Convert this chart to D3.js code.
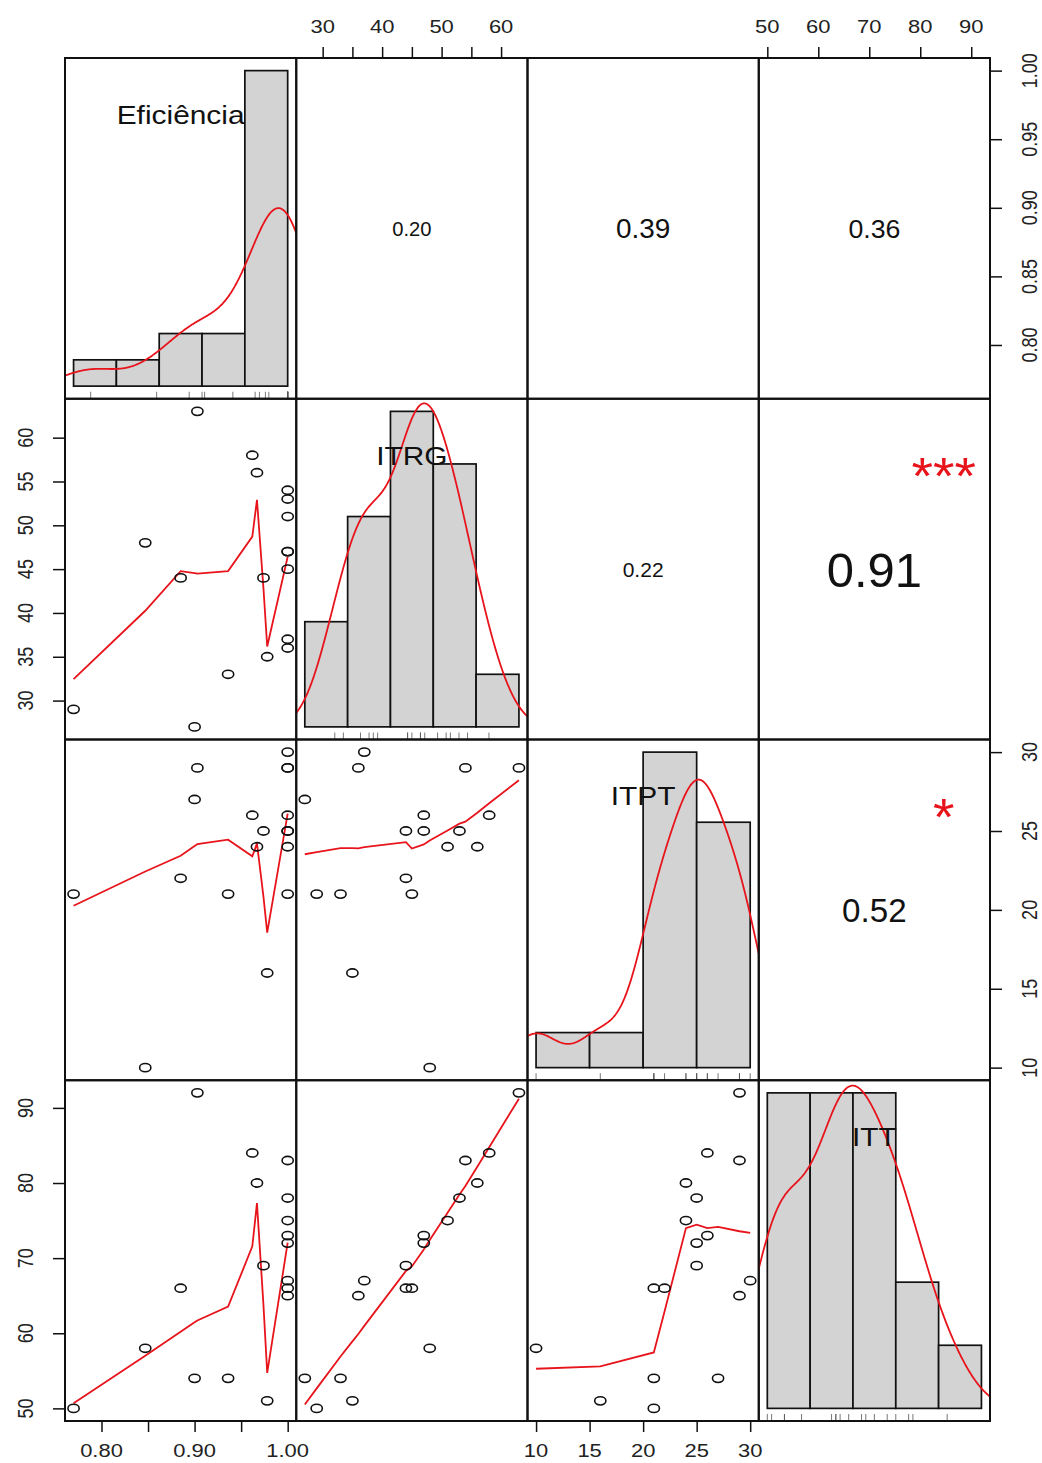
<!DOCTYPE html>
<html>
<head>
<meta charset="utf-8">
<script src="https://cdn.jsdelivr.net/npm/d3@7"></script>
<style>
  body { margin: 0; background: #fff; }
  svg text { font-family: "Liberation Sans", Arial, Helvetica, sans-serif; }
</style>
</head>
<body>
<div id="chart"></div>
<script>
// variable names (diagonal labels)
var varNames = ["Eficiência", "ITRG", "ITPT", "ITT"];

var eficiencia = [0.903, 0.962, 1.00, 0.967, 1.00, 1.00, 1.00, 1.00, 0.974, 1.00, 1.00, 0.885, 1.00, 0.847, 0.900, 0.936, 0.978, 0.770];
var itrg       = [63, 58, 54, 56, 53, 51, 47, 47, 44, 37, 45, 44, 36, 48, 27, 33, 35, 29];
var itpt       = [29, 26, 29, 24, 25, 24, 26, 25, 25, 30, 21, 22, 29, 10, 27, 21, 16, 21];
var itt        = [92, 84, 83, 80, 78, 75, 73, 72, 69, 67, 66, 66, 65, 58, 54, 54, 51, 50];

// histogram breaks
var efBreaks   = [0.75, 0.80, 0.85, 0.90, 0.95, 1.00];
var itrgBreaks = [20, 30, 40, 50, 60, 70];
var itptBreaks = [10, 15, 20, 25, 30];
var ittBreaks  = [50, 60, 70, 80, 90, 100];

// axis ticks and their labels ("" = tick without label)
var efTicks   = [0.80, 0.85, 0.90, 0.95, 1.00];
var itrgTicks = [30, 35, 40, 45, 50, 55, 60];
var itptTicks = [10, 15, 20, 25, 30];
var ittTicks  = [50, 60, 70, 80, 90];
var efColLabels   = ["0.80", "", "0.90", "", "1.00"];
var efRowLabels   = ["0.80", "0.85", "0.90", "0.95", "1.00"];
var itrgColLabels = ["30", "", "40", "", "50", "", "60"];
var itrgRowLabels = ["30", "35", "40", "45", "50", "55", "60"];
var itptLabels    = ["10", "15", "20", "25", "30"];
var ittLabels     = ["50", "60", "70", "80", "90"];

// correlations shown in the upper panels
var corrPairs  = [[0, 1], [0, 2], [0, 3], [1, 2], [1, 3], [2, 3]];
var corrValues = [0.20, 0.39, 0.36, 0.22, 0.91, 0.52];
var corrStars  = ["", "", "", "", "***", "*"];

function init()
{
  var w = 1042, h = 1463;
  var X0 = 65, Y0 = 58, PW = 231.25, PH = 340.75;
  var SX = 1.22;   // horizontal stretch of the source picture
  var RED = "#e8141c";

  var vars = [eficiencia, itrg, itpt, itt];
  var breaks = [efBreaks, itrgBreaks, itptBreaks, ittBreaks];
  var ticks = [efTicks, itrgTicks, itptTicks, ittTicks];
  var colLabels = [efColLabels, itrgColLabels, itptLabels, ittLabels];
  var rowLabels = [efRowLabels, itrgRowLabels, itptLabels, ittLabels];

  var svg = d3.select("#chart")
              .append("svg")
              .attr("width", w)
              .attr("height", h);

  // R style 4% range extension
  function pad(ext) {
    var d = (ext[1] - ext[0]) * 0.04;
    return [ext[0] - d, ext[1] + d];
  }

  function addText(g, x, y, txt, size, sx, rot) {
    return g.append("text")
      .attr("transform", "translate(" + x + "," + y + ") scale(" + sx + ",1)" + (rot ? " rotate(" + rot + ")" : ""))
      .attr("text-anchor", "middle")
      .attr("font-size", size)
      .text(txt);
  }

  // R's clowess
  function lowess(xIn, yIn, f, nsteps) {
    var n = xIn.length;
    var idx = d3.range(n).sort(function(a, b){ return xIn[a] - xIn[b] || a - b; });
    var X = [0], Y = [0], YS = [0], RW = [0], RES = [0], W = [0];
    idx.forEach(function(i){ X.push(xIn[i]); Y.push(yIn[i]); YS.push(0); RW.push(0); RES.push(0); W.push(0); });
    var delta = 0.01 * (X[n] - X[1]);
    var ns = Math.max(2, Math.min(n, Math.floor(f * n + 1e-7)));

    function lowest(xs, nleft, nright, userw) {
      var range = X[n] - X[1];
      var hh = Math.max(xs - X[nleft], X[nright] - xs);
      var h9 = 0.999 * hh, h1 = 0.001 * hh;
      var a = 0, j = nleft;
      while (j <= n) {
        W[j] = 0;
        var r = Math.abs(X[j] - xs);
        if (r <= h9) {
          W[j] = r <= h1 ? 1 : Math.pow(1 - Math.pow(r / hh, 3), 3);
          if (userw) W[j] *= RW[j];
          a += W[j];
        } else if (X[j] > xs) break;
        j++;
      }
      var nrt = j - 1;
      if (a <= 0) return null;
      for (j = nleft; j <= nrt; j++) W[j] /= a;
      if (hh > 0) {
        a = 0;
        for (j = nleft; j <= nrt; j++) a += W[j] * X[j];
        var b = xs - a, c = 0;
        for (j = nleft; j <= nrt; j++) c += W[j] * (X[j] - a) * (X[j] - a);
        if (Math.sqrt(c) > 0.001 * range) {
          b /= c;
          for (j = nleft; j <= nrt; j++) W[j] *= (b * (X[j] - a) + 1);
        }
      }
      var out = 0;
      for (j = nleft; j <= nrt; j++) out += W[j] * Y[j];
      return out;
    }

    for (var iter = 1; iter <= nsteps + 1; iter++) {
      var nleft = 1, nright = ns, last = 0, i = 1;
      for (;;) {
        if (nright < n) {
          var d1 = X[i] - X[nleft], d2 = X[nright + 1] - X[i];
          if (d1 > d2) { nleft++; nright++; continue; }
        }
        var v = lowest(X[i], nleft, nright, iter > 1);
        YS[i] = v === null ? Y[i] : v;
        if (last < i - 1) {
          var denom = X[i] - X[last];
          for (var j = last + 1; j < i; j++) {
            var alpha = (X[j] - X[last]) / denom;
            YS[j] = alpha * YS[i] + (1 - alpha) * YS[last];
          }
        }
        last = i;
        var cut = X[last] + delta;
        for (i = last + 1; i <= n; i++) {
          if (X[i] > cut) break;
          if (X[i] === X[last]) { YS[i] = YS[last]; last = i; }
        }
        i = Math.max(last + 1, i - 1);
        if (last >= n) break;
      }
      var sc = 0;
      for (i = 1; i <= n; i++) { RES[i] = Y[i] - YS[i]; sc += Math.abs(RES[i]); }
      sc /= n;
      if (iter > nsteps) break;
      var sorted = RES.slice(1).map(Math.abs).sort(function(a, b){ return a - b; });
      var m1 = Math.floor(n / 2);
      var cmad = n % 2 === 0 ? 3 * (sorted[m1] + sorted[n - m1 - 1]) : 6 * sorted[m1];
      if (cmad < 1e-7 * sc) break;
      var c9 = 0.999 * cmad, c1 = 0.001 * cmad;
      for (i = 1; i <= n; i++) {
        var rr = Math.abs(RES[i]);
        RW[i] = rr <= c1 ? 1 : (rr <= c9 ? Math.pow(1 - Math.pow(rr / cmad, 2), 2) : 0);
      }
    }
    return d3.range(1, n + 1).map(function(k){ return [X[k], YS[k]]; });
  }

  // gaussian kernel density, bw.nrd0
  function density(vals) {
    var n = vals.length;
    var s = vals.slice().sort(d3.ascending);
    var sd = d3.deviation(s);
    var iqr = d3.quantile(s, 0.75) - d3.quantile(s, 0.25);
    var lo = Math.min(sd, iqr / 1.34);
    if (!(lo > 0)) lo = sd;
    var bw = 0.9 * lo * Math.pow(n, -0.2);
    var from = s[0] - 3 * bw, to = s[n - 1] + 3 * bw;
    return d3.range(512).map(function(k){
      var x = from + (to - from) * k / 511;
      var sum = 0;
      s.forEach(function(xi){ var u = (x - xi) / bw; sum += Math.exp(-0.5 * u * u); });
      return [x, sum / (n * bw * Math.sqrt(2 * Math.PI))];
    });
  }

  // right-closed histogram bins (include.lowest)
  function histogram(vals, br) {
    var counts = br.slice(1).map(function(){ return 0; });
    vals.forEach(function(v){
      for (var k = 0; k < counts.length; k++) {
        if ((v > br[k] || (k === 0 && v >= br[k])) && v <= br[k + 1]) { counts[k]++; break; }
      }
    });
    return counts.map(function(c, k){
      return {x0: br[k], x1: br[k + 1], dens: c / (vals.length * (br[k + 1] - br[k]))};
    });
  }

  var defs = svg.append("defs");

  for (var r = 0; r < 4; r++) {
    for (var c = 0; c < 4; c++) {
      var px = X0 + c * PW, py = Y0 + r * PH;
      var clipId = "clip" + r + c;
      defs.append("clipPath").attr("id", clipId)
        .append("rect").attr("x", px).attr("y", py).attr("width", PW).attr("height", PH);
      var g = svg.append("g");
      var inner = g.append("g").attr("clip-path", "url(#" + clipId + ")");

      if (r === c) {
        // histogram + density + rug
        var bins = histogram(vars[r], breaks[r]);
        var M = d3.max(bins, function(b){ return b.dens; });
        var hx = d3.scaleLinear().domain(pad(d3.extent(breaks[r]))).range([px, px + PW]);
        var hy = d3.scaleLinear().domain([-0.04 * M, 1.04 * M]).range([py + PH, py]);
        inner.selectAll("rect.bar")
          .data(bins)
          .enter()
          .append("rect")
          .attr("x", function(d){ return hx(d.x0); })
          .attr("y", function(d){ return hy(d.dens); })
          .attr("width", function(d){ return hx(d.x1) - hx(d.x0); })
          .attr("height", function(d){ return hy(0) - hy(d.dens); })
          .attr("fill", "#d3d3d3")
          .attr("stroke", "#111")
          .attr("stroke-width", 1.7);
        inner.append("path")
          .datum(density(vars[r]))
          .attr("d", d3.line().x(function(d){ return hx(d[0]); }).y(function(d){ return hy(d[1]); }))
          .attr("fill", "none")
          .attr("stroke", RED)
          .attr("stroke-width", 1.8);
        inner.selectAll("line.rug")
          .data(vars[r])
          .enter()
          .append("line")
          .attr("x1", function(d){ return hx(d); })
          .attr("x2", function(d){ return hx(d); })
          .attr("y1", py + PH)
          .attr("y2", py + PH - 7)
          .attr("stroke", "#555")
          .attr("stroke-width", 0.8);
        addText(g, px + PW / 2, py + PH * (1 - 0.8333) + 9, varNames[r], 26, 1.15).attr("fill", "#111");
      } else if (r > c) {
        // scatter + lowess
        var sx = d3.scaleLinear().domain(pad(d3.extent(vars[c]))).range([px, px + PW]);
        var sy = d3.scaleLinear().domain(pad(d3.extent(vars[r]))).range([py + PH, py]);
        var pts = vars[c].map(function(v, i){ return [v, vars[r][i]]; });
        inner.append("path")
          .datum(lowess(vars[c], vars[r], 2 / 3, 3))
          .attr("d", d3.line().x(function(d){ return sx(d[0]); }).y(function(d){ return sy(d[1]); }))
          .attr("fill", "none")
          .attr("stroke", RED)
          .attr("stroke-width", 1.8);
        g.selectAll("ellipse")
          .data(pts)
          .enter()
          .append("ellipse")
          .attr("cx", function(d){ return sx(d[0]); })
          .attr("cy", function(d){ return sy(d[1]); })
          .attr("rx", 5.6)
          .attr("ry", 4.1)
          .attr("fill", "none")
          .attr("stroke", "#111")
          .attr("stroke-width", 1.6);
      } else {
        // correlation text
        var k = corrPairs.findIndex(function(p){ return p[0] === r && p[1] === c; });
        var base = 52.6;
        var fs = base * (Math.abs(corrValues[k]) + 0.3) / 1.3;
        addText(g, px + PW / 2, py + PH / 2 + 0.36 * fs, corrValues[k].toFixed(2), fs, 1.0)
          .attr("fill", "#111");
        if (corrStars[k]) {
          addText(g, px + 0.8 * PW, py + 0.2 * PH + 0.52 * base, corrStars[k], base, 1.05)
            .attr("fill", RED);
        }
      }

      g.append("rect")
        .attr("x", px).attr("y", py).attr("width", PW).attr("height", PH)
        .attr("fill", "none")
        .attr("stroke", "#111")
        .attr("stroke-width", 2);
    }
  }

  // outer axes, alternating sides as in pairs()
  for (var k = 0; k < 4; k++) {
    var cs = d3.scaleLinear().domain(pad(d3.extent(vars[k]))).range([X0 + k * PW, X0 + (k + 1) * PW]);
    var top = k % 2 === 1;
    var ax = svg.append("g")
      .attr("transform", "translate(0," + (top ? Y0 : Y0 + 4 * PH) + ")")
      .call((top ? d3.axisTop(cs) : d3.axisBottom(cs)).tickValues(ticks[k]).tickFormat("").tickSize(11).tickSizeOuter(0));
    ax.select(".domain").remove();
    ax.selectAll("line").attr("stroke", "#111").attr("stroke-width", 1.5);
    ticks[k].forEach(function(t, i){
      if (colLabels[k][i]) addText(svg, cs(t), top ? Y0 - 25 : Y0 + 4 * PH + 36, colLabels[k][i], 18, SX).attr("fill", "#222");
    });

    var rs = d3.scaleLinear().domain(pad(d3.extent(vars[k]))).range([Y0 + (k + 1) * PH, Y0 + k * PH]);
    var left = k % 2 === 1;
    var ay = svg.append("g")
      .attr("transform", "translate(" + (left ? X0 : X0 + 4 * PW) + ",0)")
      .call((left ? d3.axisLeft(rs) : d3.axisRight(rs)).tickValues(ticks[k]).tickFormat("").tickSize(12).tickSizeOuter(0));
    ay.select(".domain").remove();
    ay.selectAll("line").attr("stroke", "#111").attr("stroke-width", 1.5);
    ticks[k].forEach(function(t, i){
      if (rowLabels[k][i]) addText(svg, left ? X0 - 32 : X0 + 4 * PW + 47, rs(t), rowLabels[k][i], 18, SX, -90).attr("fill", "#222");
    });
  }
}

window.onload = init;
</script>
</body>
</html>
